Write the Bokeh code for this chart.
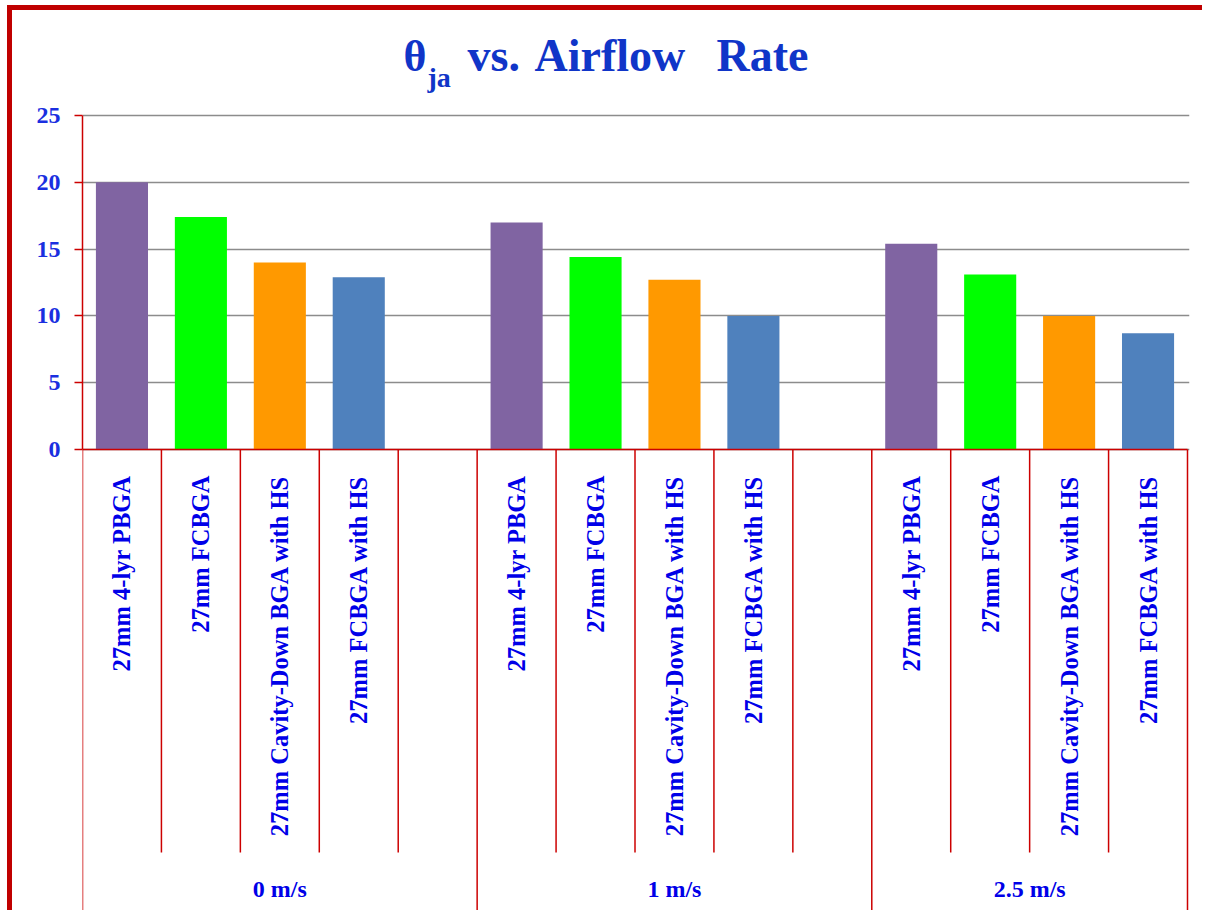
import math
from bokeh.plotting import figure
from bokeh.models import Range1d, FixedTicker
from bokeh.core.properties import value
from bokeh.embed import file_html
from bokeh.resources import INLINE

# ---------------- data ----------------
groups = ["0 m/s", "1 m/s", "2.5 m/s"]
packages = ["27mm 4-lyr PBGA", "27mm FCBGA", "27mm Cavity-Down BGA with HS", "27mm FCBGA with HS"]
colors = ["#8064A2", "#00FF00", "#FF9900", "#4F81BD"]
theta_0 = [20.0, 17.4, 14.0, 12.9]
theta_1 = [17.0, 14.4, 12.7, 10.0]
theta_25 = [15.4, 13.1, 10.0, 8.7]
series = [theta_0, theta_1, theta_25]
y_ticks = [0, 5, 10, 15, 20, 25]
slots_per_group = [5, 5, 4]   # four packages + one empty slot (except the last group)

# ---------------- layout helpers (page pixels of the reference) ----------------
FRAME_LEFT_PX, LAST_SEP_PX = 82.0, 1187.0
Y0_PX, Y25_PX = 449.0, 115.0
n_slots = sum(slots_per_group)
slot_px = (LAST_SEP_PX - FRAME_LEFT_PX) / n_slots
unit_px = (Y0_PX - Y25_PX) / 25.0
CANVAS_LEFT_PX, CANVAS_TOP_PX = 12.0, 10.0
W, H = 1195, 905
FRAME_RIGHT_PX = 1189.0

def px_x(px):
    return (px - FRAME_LEFT_PX) / slot_px

def px_y(py):
    return (Y0_PX - py) / unit_px

p = figure(width=W, height=H, output_backend="svg", toolbar_location=None,
           x_range=Range1d(0, px_x(FRAME_RIGHT_PX)),
           y_range=Range1d(px_y(CANVAS_TOP_PX + H), px_y(CANVAS_TOP_PX)),
           x_axis_type=None,
           min_border_left=int(FRAME_LEFT_PX - CANVAS_LEFT_PX),
           min_border_right=int(CANVAS_LEFT_PX + W - FRAME_RIGHT_PX),
           min_border_top=0, min_border_bottom=0)
p.outline_line_color = None
p.background_fill_color = "white"
p.border_fill_color = "white"
p.styles = {"margin-left": "7px", "margin-top": "5px",
            "border-left": "5px solid #C00000", "border-top": "5px solid #C00000"}

FONT = value("Liberation Serif")
BLUE = "#0000E8"
RED = "#CC0000"

# y axis
ax = p.yaxis[0]
ax.ticker = FixedTicker(ticks=y_ticks)
ax.bounds = (0, 25)
ax.axis_line_color = RED
ax.axis_line_width = 1.5
ax.major_tick_line_color = RED
ax.major_tick_line_width = 1.5
ax.major_tick_out = 8
ax.major_tick_in = 0
ax.minor_tick_line_color = None
ax.major_label_standoff = 14
ax.major_label_text_font = "Liberation Serif"
ax.major_label_text_font_style = "bold"
ax.major_label_text_font_size = "24px"
ax.major_label_text_color = "#1A2FE0"

g = p.ygrid[0]
g.ticker = FixedTicker(ticks=y_ticks)
g.bounds = (0, 25)
g.grid_line_color = "#8C8C8C"
g.grid_line_width = 1.5

# bars and their category labels
bx, btop, bcol, ltxt = [], [], [], []
start = 0
for gi, vals in enumerate(series):
    for i, v in enumerate(vals):
        bx.append(start + i + 0.5)
        btop.append(v)
        bcol.append(colors[i])
        ltxt.append(packages[i])
    start += slots_per_group[gi]

p.vbar(x=bx, top=btop, bottom=0, width=0.66, fill_color=bcol, line_color=None)

# x axis baseline
p.segment(x0=[0], x1=[n_slots], y0=[0], y1=[0], line_color=RED, line_width=1.5)

# category separators
outer, inner = [0], []
start = 0
for n in slots_per_group:
    for k in range(1, n):
        inner.append(start + k)
    start += n
    outer.append(start)
p.segment(x0=inner, x1=inner, y0=[0] * len(inner), y1=[px_y(852)] * len(inner),
          line_color=RED, line_width=1.5)
p.segment(x0=outer, x1=outer, y0=[0] * len(outer), y1=[px_y(912)] * len(outer),
          line_color=RED, line_width=1.5)

# category labels (rotated)
p.text(x=bx, y=[px_y(475)] * len(bx), text=ltxt, angle=math.pi / 2,
       text_align="right", text_baseline="middle", text_font=FONT,
       text_font_style="bold", text_font_size="24.5px", text_color=BLUE)

# group labels
gx = []
start = 0
for n in slots_per_group:
    gx.append(start + n / 2)
    start += n
p.text(x=gx, y=[px_y(888)] * len(gx), text=groups, text_align="center",
       text_baseline="middle", text_font=FONT, text_font_style="bold",
       text_font_size="24px", text_color=BLUE)

# title: θ with subscript "ja", then "vs. Airflow Rate"
TBLUE = "#1035C8"
p.text(x=[px_x(403)], y=[px_y(56)], text=["θ"], text_align="left",
       text_baseline="middle", text_font=FONT, text_font_style="bold",
       text_font_size="44px", text_color=TBLUE)
p.text(x=[px_x(427)], y=[px_y(77)], text=["ja"], text_align="left",
       text_baseline="middle", text_font=FONT, text_font_style="bold",
       text_font_size="28px", text_color=TBLUE)
p.text(x=[px_x(467), px_x(534), px_x(716)], y=[px_y(55)] * 3,
       text=["vs.", "Airflow", "Rate"], text_align="left",
       text_baseline="middle", text_font=FONT, text_font_style="bold",
       text_font_size="46px", text_color=TBLUE)

open("out.html", "w").write(file_html(p, INLINE))
